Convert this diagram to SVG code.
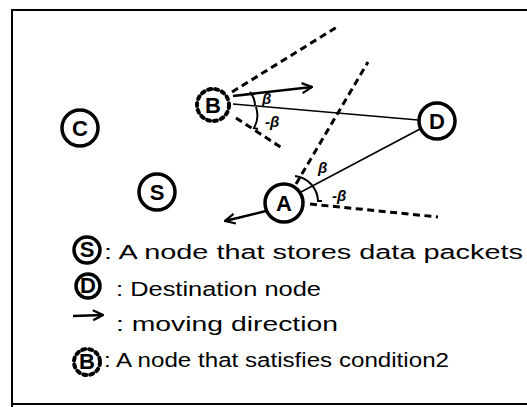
<svg xmlns="http://www.w3.org/2000/svg" width="527" height="407" viewBox="0 0 527 407">
<defs>
<style>
.frame{stroke:#000;stroke-width:2;fill:none}
.node{fill:#fff;stroke:#000;stroke-width:3.5}
.dotted{fill:#fff;stroke:#000;stroke-width:4;stroke-dasharray:3 4;stroke-linecap:round}
.lbl{font-family:"Liberation Sans",Arial,sans-serif;font-weight:bold;font-size:22px;text-anchor:middle;fill:#000}
.dash{stroke:#000;stroke-width:3;stroke-dasharray:7 4.5;fill:none}
.solid{stroke:#000;stroke-width:1.6;fill:none}
.arrow{stroke:#000;stroke-width:2.5;fill:none}
.arc{stroke:#000;stroke-width:2;fill:none}
.beta{font-family:"Liberation Sans",Arial,sans-serif;font-weight:bold;font-style:italic;font-size:15px;fill:#000}
.leg{font-family:"Liberation Sans",Arial,sans-serif;font-size:20px;fill:#000}
</style>
<marker id="chev" viewBox="0 0 10 10" refX="9" refY="5" markerWidth="5" markerHeight="5" orient="auto" markerUnits="strokeWidth">
<path d="M1,1 L9,5 L1,9" fill="none" stroke="#000" stroke-width="1.8"/>
</marker>
</defs>
<rect width="527" height="407" fill="#fff"/>
<g id="frame">
<path class="frame" d="M527,10 L12,10 L12,407"/>
<path class="frame" d="M12,404 L527,404"/>
</g>
<g id="connectors">
<line class="dash" x1="232" y1="92" x2="337" y2="27"/>
<line class="dash" x1="236" y1="118" x2="282" y2="148"/>
<line class="solid" x1="233" y1="104" x2="418" y2="120"/>
<line class="arrow" x1="233" y1="96" x2="312" y2="87" marker-end="url(#chev)"/>
<line class="dash" x1="296" y1="184" x2="368" y2="62"/>
<line class="solid" x1="301" y1="192" x2="420" y2="129"/>
<line class="dash" x1="310" y1="204" x2="438" y2="217"/>
<line class="arrow" x1="266" y1="211" x2="225" y2="221" marker-end="url(#chev)"/>
<path class="arc" d="M250,92 A22 22 0 0 1 255,105"/>
<path class="arc" d="M256,107 A26 26 0 0 1 254,128 L258,129"/>
<path class="arc" d="M295,176 A26 26 0 0 1 318,201 L322,201"/>
<text class="beta" x="262" y="104">β</text>
<text class="beta" x="265" y="127">-β</text>
<text class="beta" x="318" y="173">β</text>
<text class="beta" x="332" y="201">-β</text>
</g>
<g id="node-C"><circle class="node" cx="80" cy="128" r="18"/><text class="lbl" x="80" y="136">C</text></g>
<g id="node-S"><circle class="node" cx="157" cy="192" r="18"/><text class="lbl" x="157" y="200">S</text></g>
<g id="node-B"><circle class="dotted" cx="213" cy="105" r="16"/><text class="lbl" x="213" y="113">B</text></g>
<g id="node-D"><circle class="node" cx="437" cy="121" r="18"/><text class="lbl" x="437" y="129">D</text></g>
<g id="node-A"><circle class="node" cx="284" cy="203" r="19"/><text class="lbl" x="284" y="211">A</text></g>
<g id="legend">
<circle class="node" cx="87" cy="250" r="13" stroke-width="3"/><text class="lbl" x="87" y="257" font-size="19">S</text>
<text class="leg" x="104" y="259" textLength="419" lengthAdjust="spacingAndGlyphs">: A node that stores data packets</text>
<circle class="node" cx="88" cy="286" r="12" stroke-width="3"/><text class="lbl" x="88" y="293" font-size="18">D</text>
<text class="leg" x="116" y="296" textLength="205" lengthAdjust="spacingAndGlyphs">: Destination node</text>
<line class="arrow" x1="73" y1="316" x2="103" y2="315" marker-end="url(#chev)"/>
<text class="leg" x="116" y="331" textLength="222" lengthAdjust="spacingAndGlyphs">: moving direction</text>
<circle class="dotted" cx="87" cy="362" r="13" stroke-width="3.5"/><text class="lbl" x="87" y="369" font-size="18">B</text>
<text class="leg" x="104" y="367" textLength="345" lengthAdjust="spacingAndGlyphs">: A node that satisfies condition2</text>
</g>
</svg>
